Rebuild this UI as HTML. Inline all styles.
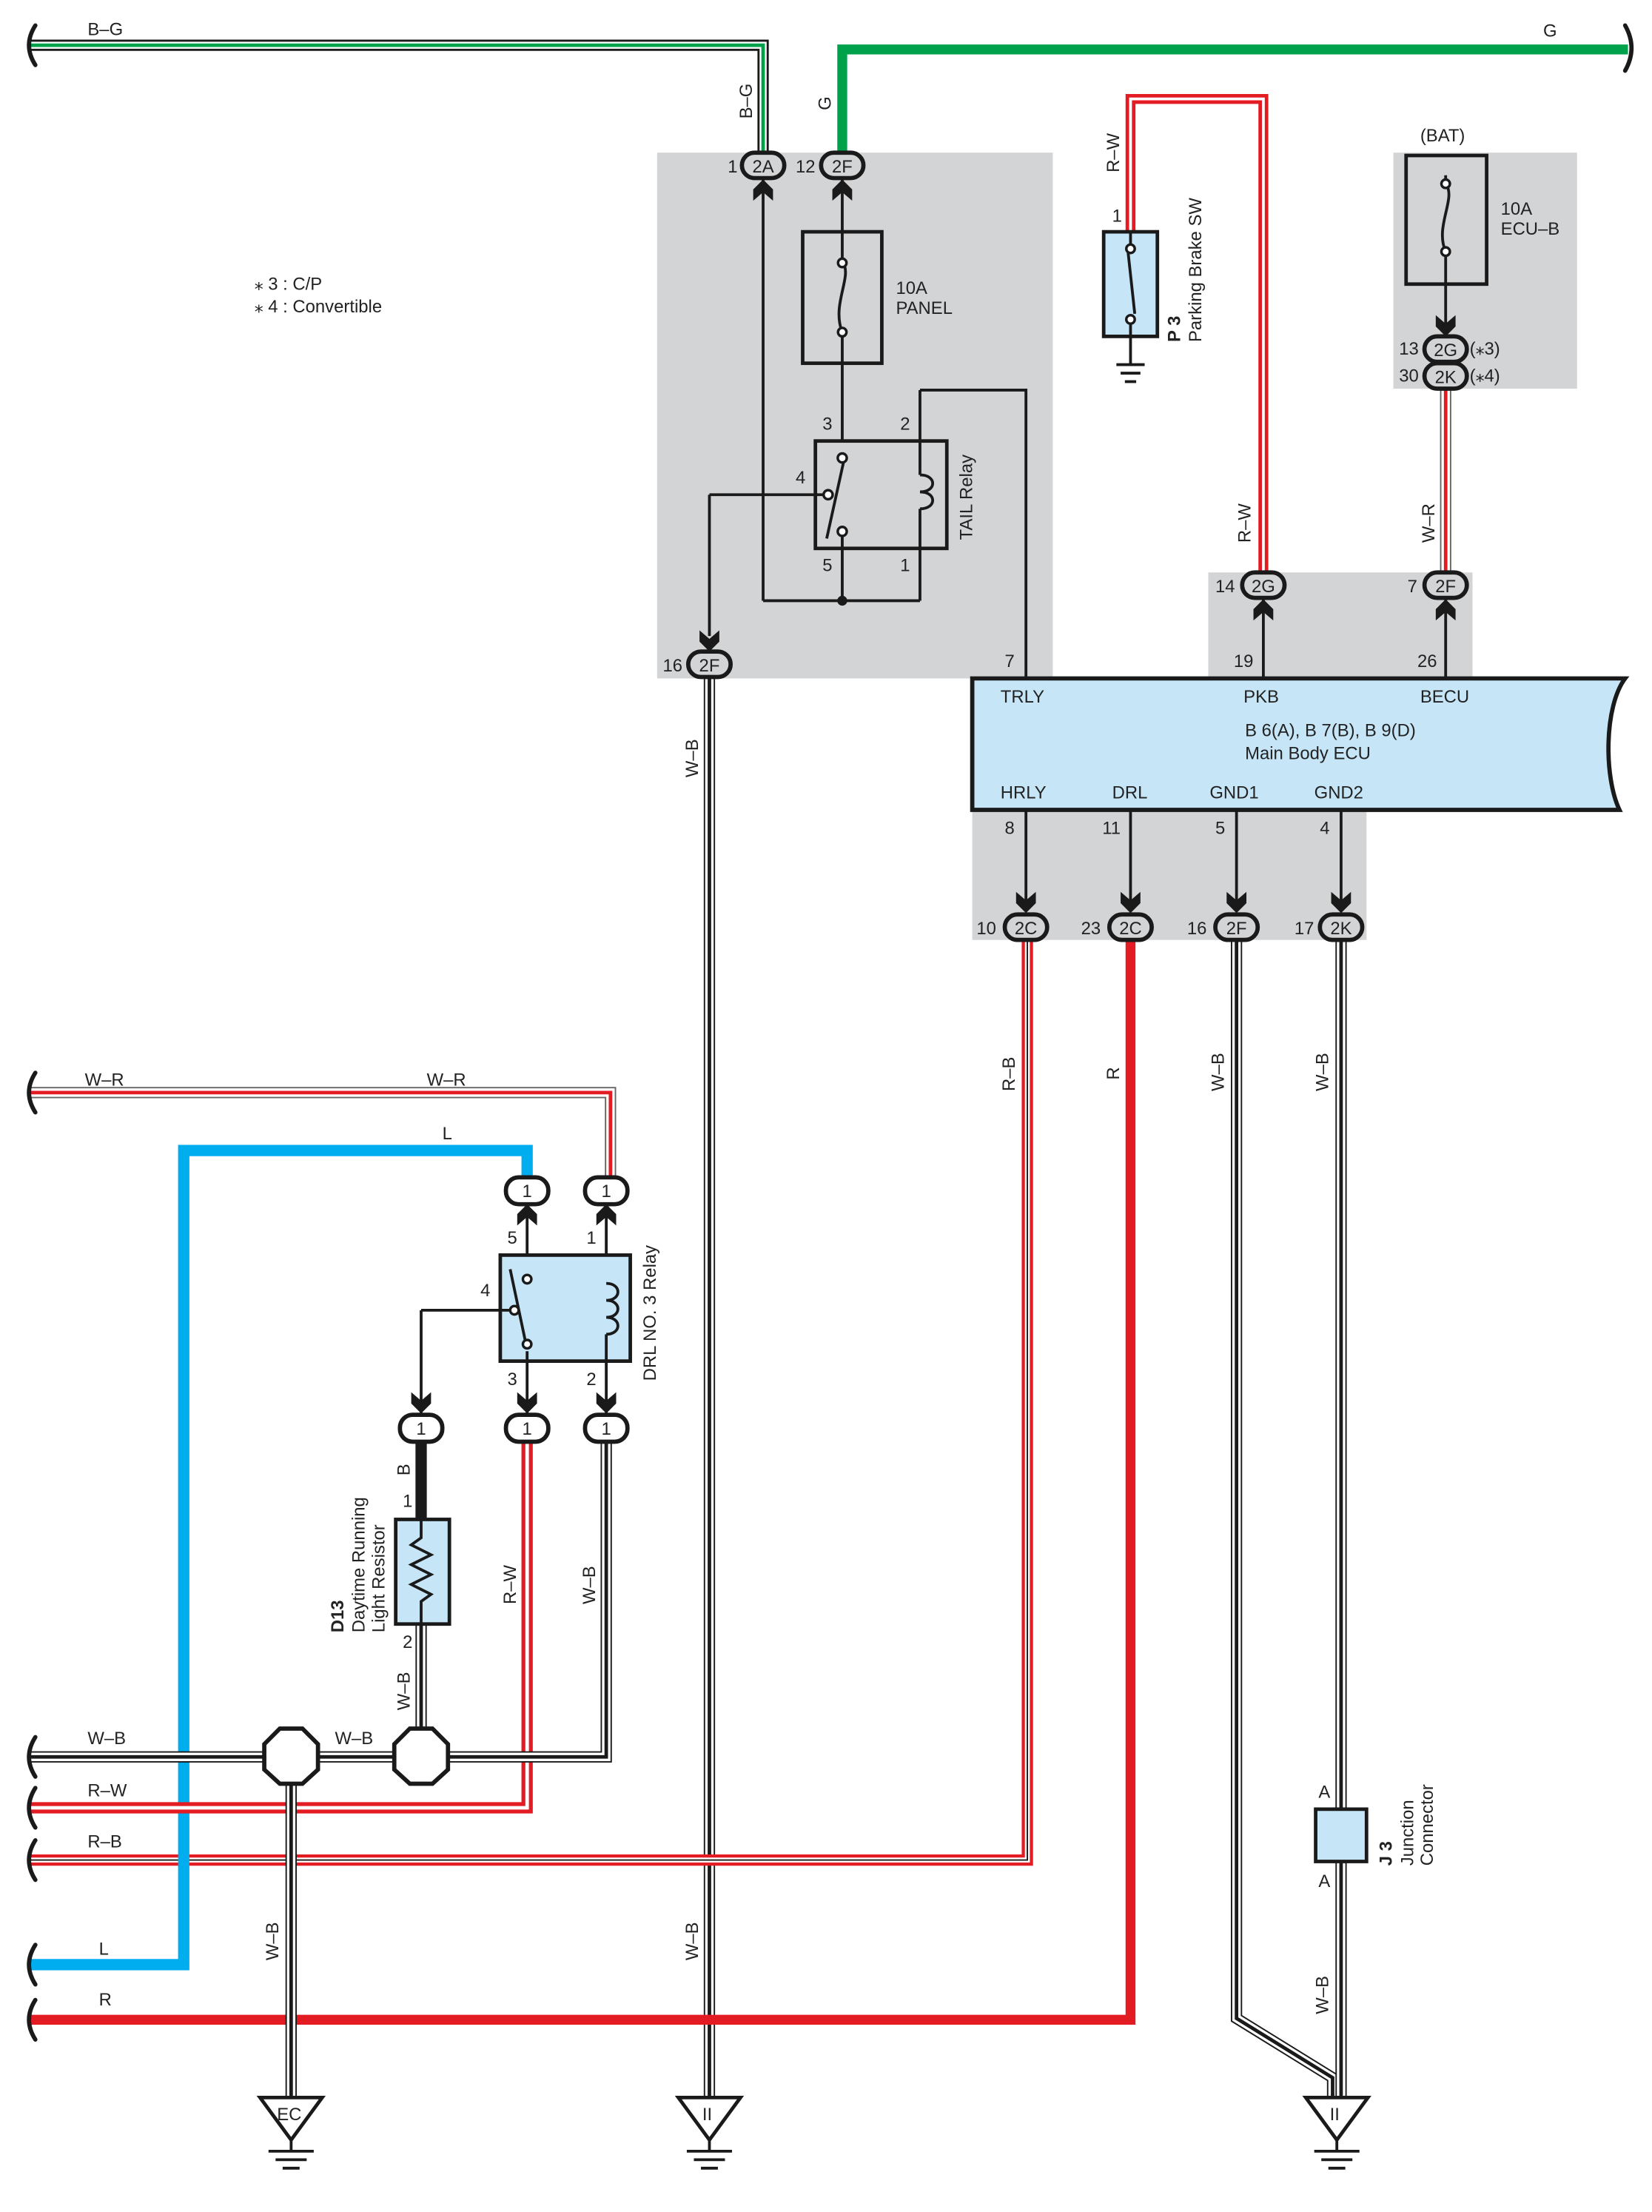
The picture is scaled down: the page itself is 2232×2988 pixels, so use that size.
<!DOCTYPE html>
<html><head><meta charset="utf-8"><style>
html,body{margin:0;padding:0;background:#fff}
svg{display:block}
text{font-family:"Liberation Sans",Arial,sans-serif;font-size:12.5px;fill:#222}
</style></head><body>
<svg width="2232" height="2988" viewBox="0 0 1169 1565" xmlns="http://www.w3.org/2000/svg">
<defs>
<polygon id="ad" points="-7,-15 0,-9 7,-15 7,-7 0,0 -7,-7" fill="#1a1a1a"/>
<g id="gnd"><polygon points="-22,0 22,0 0,30" fill="#fff" stroke="#1a1a1a" stroke-width="2.5"/>
<line x1="-16" y1="38" x2="16" y2="38" stroke="#1a1a1a" stroke-width="2"/>
<line x1="-11" y1="44" x2="11" y2="44" stroke="#1a1a1a" stroke-width="2"/>
<line x1="-6" y1="50" x2="6" y2="50" stroke="#1a1a1a" stroke-width="2"/>
<line x1="0" y1="30" x2="0" y2="38" stroke="#1a1a1a" stroke-width="2"/></g>
<path id="brk" d="M5,-14 Q-4,0 5,14" fill="none" stroke="#1a1a1a" stroke-width="3" stroke-linecap="round"/>
</defs>

<!-- gray boxes -->
<rect x="465" y="108" width="280" height="372" fill="#d3d4d6"/>
<rect x="986" y="108" width="130" height="167" fill="#d3d4d6"/>
<rect x="855" y="405" width="187" height="76" fill="#d3d4d6"/>
<rect x="688" y="572" width="279" height="93" fill="#d3d4d6"/>

<!-- top wires -->
<path d="M20,32 H540 V108" fill="none" stroke="#1a1a1a" stroke-width="8"/>
<path d="M20,32 H540 V108" fill="none" stroke="#fff" stroke-width="5"/>
<path d="M20,32 H540 V108" fill="none" stroke="#00a14b" stroke-width="2.5"/>
<use href="#brk" x="20" y="32"/>
<text x="62" y="25">B–G</text>
<text transform="translate(532,84) rotate(-90)">B–G</text>
<path d="M596,108 V35 H1152" fill="none" stroke="#00a14b" stroke-width="7"/>
<path d="M1150,18 Q1159,34 1150,50" fill="none" stroke="#1a1a1a" stroke-width="3" stroke-linecap="round"/>
<text x="1092" y="26">G</text>
<text transform="translate(588,78) rotate(-90)">G</text>

<text x="180" y="205" font-size="12">⁎ 3 : C/P</text>
<text x="180" y="221" font-size="12">⁎ 4 : Convertible</text>

<!-- fuse panel -->
<g stroke="#1a1a1a" stroke-width="2" fill="none">
<line x1="540" y1="126" x2="540" y2="425"/>
<line x1="596" y1="126" x2="596" y2="164"/>
<rect x="568" y="164" width="56" height="93" stroke-width="2.5"/>
<line x1="596" y1="185" x2="596" y2="164"/>
<path d="M596,185 C604,195 588,215 596,235"/>
<line x1="596" y1="235" x2="596" y2="257"/>
<line x1="596" y1="257" x2="596" y2="325"/>
<rect x="577" y="312" width="93" height="76" fill="#d3d4d6" stroke-width="2.5"/>
<line x1="585" y1="381" x2="598" y2="322"/>
<line x1="502" y1="350" x2="586" y2="350"/>
<line x1="502" y1="350" x2="502" y2="450"/>
<line x1="596" y1="376" x2="596" y2="425"/>
<line x1="540" y1="425" x2="651" y2="425"/>
<line x1="651" y1="276" x2="651" y2="336"/>
<path d="M651,336 C663,336 663,348 651,348 C663,348 663,360 651,360"/>
<line x1="651" y1="360" x2="651" y2="425"/>
<path d="M651,276 H726 V480"/>
</g>
<circle cx="596" cy="324" r="3.2" fill="#fff" stroke="#1a1a1a" stroke-width="1.8"/>
<circle cx="586" cy="350" r="3.2" fill="#fff" stroke="#1a1a1a" stroke-width="1.8"/>
<circle cx="596" cy="376" r="3.2" fill="#fff" stroke="#1a1a1a" stroke-width="1.8"/>
<circle cx="596" cy="425" r="3.5" fill="#1a1a1a"/>
<circle cx="596" cy="186" r="3" fill="#fff" stroke="#1a1a1a" stroke-width="1.8"/>
<circle cx="596" cy="235" r="3" fill="#fff" stroke="#1a1a1a" stroke-width="1.8"/>
<use href="#ad" transform="translate(540,127) rotate(180)"/>
<use href="#ad" transform="translate(596,127) rotate(180)"/>
<use href="#ad" transform="translate(502,461)"/>
<text x="634" y="208">10A</text><text x="634" y="222">PANEL</text>
<text x="582" y="304">3</text><text x="637" y="304">2</text>
<text x="563" y="342">4</text><text x="582" y="404">5</text><text x="637" y="404">1</text>
<text transform="translate(688,382) rotate(-90)">TAIL Relay</text>
<text x="515" y="122">1</text><text x="563" y="122">12</text>
<text x="469" y="475">16</text><text x="711" y="472">7</text>

<!-- W-B from 2F down -->
<g fill="none">
<path d="M502,480 V1485" stroke="#1a1a1a" stroke-width="8"/>
<path d="M502,480 V1485" stroke="#fff" stroke-width="6"/>
<path d="M502,480 V1485" stroke="#1a1a1a" stroke-width="2.5"/>
</g>
<text transform="translate(494,550) rotate(-90)">W–B</text>
<text transform="translate(494,1387) rotate(-90)">W–B</text>

<!-- parking brake -->
<path d="M800,164 V70 H894 V405" fill="none" stroke="#e31b23" stroke-width="7"/>
<path d="M800,164 V70 H894 V405" fill="none" stroke="#fff" stroke-width="2"/>
<rect x="781" y="164" width="38" height="74" fill="#c6e6f8" stroke="#1a1a1a" stroke-width="2.5"/>
<g stroke="#1a1a1a" stroke-width="2"><line x1="800" y1="164" x2="800" y2="176"/><line x1="798" y1="176" x2="803" y2="222"/><line x1="800" y1="226" x2="800" y2="258"/>
<line x1="790" y1="258" x2="810" y2="258"/><line x1="793" y1="264" x2="807" y2="264"/><line x1="796" y1="270" x2="804" y2="270"/></g>
<circle cx="800" cy="176" r="3" fill="#fff" stroke="#1a1a1a" stroke-width="1.8"/>
<circle cx="800" cy="226" r="3" fill="#fff" stroke="#1a1a1a" stroke-width="1.8"/>
<text x="787" y="157">1</text>
<text transform="translate(792,122) rotate(-90)">R–W</text>
<text transform="translate(835,242) rotate(-90)" font-weight="bold">P 3</text>
<text transform="translate(850,242) rotate(-90)">Parking Brake SW</text>

<!-- BAT fuse -->
<text x="1005" y="100">(BAT)</text>
<rect x="995" y="110" width="57" height="91" fill="#d3d4d6" stroke="#1a1a1a" stroke-width="2.5"/>
<g stroke="#1a1a1a" stroke-width="2" fill="none"><line x1="1023" y1="124" x2="1023" y2="130"/><path d="M1023,130 C1031,140 1015,160 1023,178"/><line x1="1023" y1="178" x2="1023" y2="240"/></g>
<circle cx="1023" cy="130" r="3" fill="#fff" stroke="#1a1a1a" stroke-width="1.8"/>
<circle cx="1023" cy="178" r="3" fill="#fff" stroke="#1a1a1a" stroke-width="1.8"/>
<use href="#ad" transform="translate(1023,238)"/>
<text x="1062" y="152">10A</text><text x="1062" y="166">ECU–B</text>
<text x="990" y="251">13</text><text x="990" y="270">30</text>
<text x="1040" y="251">(⁎3)</text><text x="1040" y="270">(⁎4)</text>
<path d="M1023,275 V405" fill="none" stroke="#666" stroke-width="8"/>
<path d="M1023,275 V405" fill="none" stroke="#fff" stroke-width="6"/>
<path d="M1023,275 V405" fill="none" stroke="#e31b23" stroke-width="2.5"/>
<text transform="translate(1015,384) rotate(-90)">W–R</text>
<text transform="translate(885,384) rotate(-90)">R–W</text>

<!-- ECU -->
<g stroke="#1a1a1a" stroke-width="2"><line x1="894" y1="423" x2="894" y2="480"/><line x1="1023" y1="423" x2="1023" y2="480"/>
<line x1="726" y1="572" x2="726" y2="640"/><line x1="800" y1="572" x2="800" y2="640"/><line x1="875" y1="572" x2="875" y2="640"/><line x1="949" y1="572" x2="949" y2="640"/></g>
<use href="#ad" transform="translate(894,424) rotate(180)"/>
<use href="#ad" transform="translate(1023,424) rotate(180)"/>
<text x="860" y="419">14</text><text x="996" y="419">7</text>
<text x="873" y="472">19</text><text x="1003" y="472">26</text>
<path d="M688,480 H1150 C1135,500 1135,550 1146,573 H688 Z" fill="#c6e6f8" stroke="#1a1a1a" stroke-width="3"/>
<text x="708" y="497">TRLY</text><text x="880" y="497">PKB</text><text x="1005" y="497">BECU</text>
<text x="881" y="521" font-size="13">B 6(A), B 7(B), B 9(D)</text>
<text x="881" y="537">Main Body ECU</text>
<text x="708" y="565">HRLY</text><text x="787" y="565">DRL</text><text x="856" y="565">GND1</text><text x="930" y="565">GND2</text>
<text x="711" y="590">8</text><text x="780" y="590">11</text><text x="860" y="590">5</text><text x="934" y="590">4</text>
<use href="#ad" transform="translate(726,646)"/><use href="#ad" transform="translate(800,646)"/>
<use href="#ad" transform="translate(875,646)"/><use href="#ad" transform="translate(949,646)"/>
<text x="691" y="661">10</text><text x="765" y="661">23</text><text x="840" y="661">16</text><text x="916" y="661">17</text>

<!-- long wires from ECU -->
<path d="M727,665 V1316 H20" fill="none" stroke="#e31b23" stroke-width="8"/>
<path d="M727,665 V1316 H20" fill="none" stroke="#fff" stroke-width="3.5"/>
<path d="M727,665 V1316 H20" fill="none" stroke="#1a1a1a" stroke-width="1"/>
<text transform="translate(718,772) rotate(-90)">R–B</text>
<path d="M800,665 V1429 H20" fill="none" stroke="#e31b23" stroke-width="7"/>
<text transform="translate(792,764) rotate(-90)">R</text>
<g fill="none">
<path d="M875,665 V1428 L943,1470 V1485" stroke="#1a1a1a" stroke-width="8"/>
<path d="M875,665 V1428 L943,1470 V1485" stroke="#fff" stroke-width="6"/>
<path d="M875,665 V1428 L943,1470 V1485" stroke="#1a1a1a" stroke-width="2.5"/>
<path d="M949,665 V1485" stroke="#1a1a1a" stroke-width="8"/>
<path d="M949,665 V1485" stroke="#fff" stroke-width="6"/>
<path d="M949,665 V1485" stroke="#1a1a1a" stroke-width="2.5"/>
</g>
<text transform="translate(866,772) rotate(-90)">W–B</text>
<text transform="translate(940,772) rotate(-90)">W–B</text>
<text transform="translate(940,1425) rotate(-90)">W–B</text>
<rect x="931" y="1280" width="36" height="37" fill="#c6e6f8" stroke="#1a1a1a" stroke-width="2.5"/>
<text x="933" y="1272">A</text><text x="933" y="1335">A</text>
<text transform="translate(985,1320) rotate(-90)" font-weight="bold">J 3</text>
<text transform="translate(1000,1320) rotate(-90)">Junction</text>
<text transform="translate(1014,1320) rotate(-90)">Connector</text>

<!-- lower left wires -->
<path d="M20,773 H432 V833" fill="none" stroke="#666" stroke-width="8"/>
<path d="M20,773 H432 V833" fill="none" stroke="#fff" stroke-width="6"/>
<path d="M20,773 H432 V833" fill="none" stroke="#e31b23" stroke-width="2.5"/>
<text x="60" y="768">W–R</text><text x="302" y="768">W–R</text>
<path d="M373,833 V814 H130 V1390 H20" fill="none" stroke="#00aeef" stroke-width="8"/>
<text x="313" y="806">L</text><text x="70" y="1383">L</text>
<text x="70" y="1419">R</text>

<!-- relay DRL -->
<g stroke="#1a1a1a" stroke-width="2" fill="none">
<line x1="373" y1="852" x2="373" y2="905"/><line x1="429" y1="852" x2="429" y2="908"/>
<rect x="354" y="888" width="92" height="75" fill="#c6e6f8" stroke-width="2.5"/>
<line x1="361" y1="898" x2="372" y2="950"/>
<line x1="298" y1="927" x2="364" y2="927"/><line x1="298" y1="927" x2="298" y2="1000"/>
<line x1="373" y1="956" x2="373" y2="1000"/>
<path d="M429,908 C440,908 440,920 429,920 C440,920 440,932 429,932 C440,932 440,944 429,944"/>
<line x1="429" y1="944" x2="429" y2="1000"/>
</g>
<circle cx="373" cy="905" r="3" fill="#fff" stroke="#1a1a1a" stroke-width="1.8"/>
<circle cx="364" cy="927" r="3" fill="#fff" stroke="#1a1a1a" stroke-width="1.8"/>
<circle cx="373" cy="951" r="3" fill="#fff" stroke="#1a1a1a" stroke-width="1.8"/>
<use href="#ad" transform="translate(373,852) rotate(180)"/><use href="#ad" transform="translate(429,852) rotate(180)"/>
<use href="#ad" transform="translate(298,1000)"/><use href="#ad" transform="translate(373,1000)"/><use href="#ad" transform="translate(429,1000)"/>
<text x="359" y="880">5</text><text x="415" y="880">1</text><text x="340" y="917">4</text>
<text x="359" y="980">3</text><text x="415" y="980">2</text>
<text transform="translate(464,977) rotate(-90)">DRL NO. 3 Relay</text>

<!-- wires from relay -->
<path d="M373,1019 V1279 H20" fill="none" stroke="#e31b23" stroke-width="8"/>
<path d="M373,1019 V1279 H20" fill="none" stroke="#fff" stroke-width="2.5"/>
<text transform="translate(365,1135) rotate(-90)">R–W</text>
<text x="62" y="1271">R–W</text><text x="62" y="1307">R–B</text>
<g fill="none">
<path d="M429,1019 V1243 H20" stroke="#1a1a1a" stroke-width="8"/>
<path d="M429,1019 V1243 H20" stroke="#fff" stroke-width="6"/>
<path d="M429,1019 V1243 H20" stroke="#1a1a1a" stroke-width="2.5"/>
<path d="M298,1149 V1243" stroke="#1a1a1a" stroke-width="8"/>
<path d="M298,1149 V1243" stroke="#fff" stroke-width="6"/>
<path d="M298,1149 V1243" stroke="#1a1a1a" stroke-width="2.5"/>
<path d="M206,1243 V1485" stroke="#1a1a1a" stroke-width="8"/>
<path d="M206,1243 V1485" stroke="#fff" stroke-width="6"/>
<path d="M206,1243 V1485" stroke="#1a1a1a" stroke-width="2.5"/>
</g>
<text transform="translate(421,1135) rotate(-90)">W–B</text>
<text x="62" y="1234">W–B</text><text x="237" y="1234">W–B</text>
<text transform="translate(290,1210) rotate(-90)">W–B</text>
<text transform="translate(197,1387) rotate(-90)">W–B</text>
<path d="M298,1019 V1075" stroke="#1a1a1a" stroke-width="8"/>
<text transform="translate(290,1044) rotate(-90)">B</text>
<text x="285" y="1066">1</text><text x="285" y="1166">2</text>
<rect x="280" y="1075" width="38" height="74" fill="#c6e6f8" stroke="#1a1a1a" stroke-width="2.5"/>
<path d="M298,1075 V1088 L291,1093 L305,1100 L291,1107 L305,1114 L291,1121 L305,1128 L298,1133 V1149" fill="none" stroke="#1a1a1a" stroke-width="2"/>
<text transform="translate(243,1155) rotate(-90)" font-weight="bold">D13</text>
<text transform="translate(258,1155) rotate(-90)">Daytime Running</text>
<text transform="translate(272,1155) rotate(-90)">Light Resistor</text>

<!-- hex junctions -->
<polygon points="198,1223 214,1223 225,1234 225,1252 214,1262 198,1262 187,1252 187,1234" fill="#fff" stroke="#1a1a1a" stroke-width="3"/>
<polygon points="290,1223 306,1223 317,1234 317,1252 306,1262 290,1262 279,1252 279,1234" fill="#fff" stroke="#1a1a1a" stroke-width="3"/>

<!-- break marks -->
<use href="#brk" x="20" y="773"/><use href="#brk" x="20" y="1243"/><use href="#brk" x="20" y="1279"/>
<use href="#brk" x="20" y="1316"/><use href="#brk" x="20" y="1390"/><use href="#brk" x="20" y="1429"/>

<!-- grounds -->
<use href="#gnd" x="206" y="1484"/><use href="#gnd" x="502" y="1484"/><use href="#gnd" x="946" y="1484"/>
<text x="196" y="1500" font-size="12">EC</text>
<text x="497" y="1500" font-size="12">II</text>
<text x="941" y="1500" font-size="12">II</text>

<!-- connector pills -->
<g fill="#d3d4d6" stroke="#1a1a1a" stroke-width="3">
<rect x="525" y="108" width="30" height="18" rx="9"/>
<rect x="581" y="108" width="30" height="18" rx="9"/>
<rect x="487" y="461" width="30" height="18" rx="9"/>
<rect x="1008" y="238" width="30" height="18" rx="9"/>
<rect x="1008" y="257" width="30" height="18" rx="9"/>
<rect x="879" y="405" width="30" height="18" rx="9"/>
<rect x="1008" y="405" width="30" height="18" rx="9"/>
<rect x="711" y="647" width="30" height="18" rx="9"/>
<rect x="785" y="647" width="30" height="18" rx="9"/>
<rect x="860" y="647" width="30" height="18" rx="9"/>
<rect x="934" y="647" width="30" height="18" rx="9"/>
</g>
<g fill="#fff" stroke="#1a1a1a" stroke-width="3">
<rect x="358" y="833" width="30" height="19" rx="9"/>
<rect x="414" y="833" width="30" height="19" rx="9"/>
<rect x="283" y="1001" width="30" height="19" rx="9"/>
<rect x="358" y="1001" width="30" height="19" rx="9"/>
<rect x="414" y="1001" width="30" height="19" rx="9"/>
</g>
<g font-size="12" text-anchor="middle">
<text x="540" y="122">2A</text><text x="596" y="122">2F</text><text x="502" y="475">2F</text>
<text x="1023" y="252">2G</text><text x="1023" y="271">2K</text>
<text x="894" y="419">2G</text><text x="1023" y="419">2F</text>
<text x="726" y="661">2C</text><text x="800" y="661">2C</text><text x="875" y="661">2F</text><text x="949" y="661">2K</text>
<text x="373" y="847">1</text><text x="429" y="847">1</text>
<text x="298" y="1015">1</text><text x="373" y="1015">1</text><text x="429" y="1015">1</text>
</g>
</svg>
</body></html>
